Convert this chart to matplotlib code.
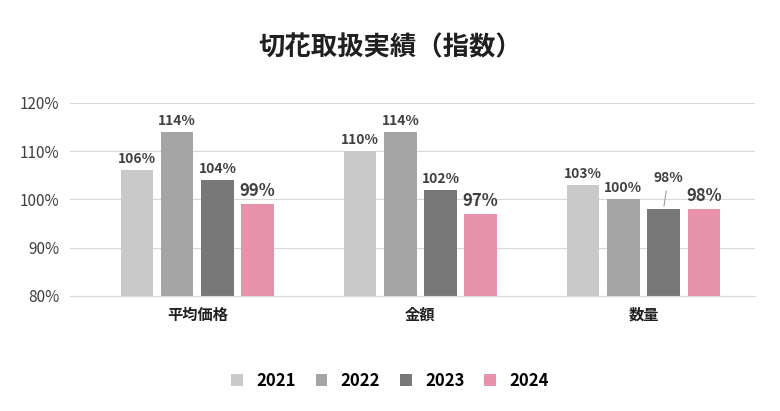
import matplotlib
matplotlib.use("Agg")
import matplotlib.pyplot as plt
import numpy as np

plt.rcParams["font.family"] = "Noto Sans CJK JP"

categories = ["平均価格", "金額", "数量"]
years = ["2021", "2022", "2023", "2024"]
values = {
    "2021": [106, 110, 103],
    "2022": [114, 114, 100],
    "2023": [104, 102, 98],
    "2024": [99, 97, 98],
}
colors = ["#c9c9c9", "#a5a5a5", "#787878", "#e891aa"]

fig = plt.figure(figsize=(7.8, 4.11), dpi=100)
ax = fig.add_axes([0.09, 0.28, 0.878, 0.47])
x = np.arange(len(categories))
w = 0.145
off = [-1.5, -0.5, 0.5, 1.5]
for i, y in enumerate(years):
    xs = x + off[i] * 0.18
    ax.bar(xs, values[y], width=w, color=colors[i], label=y, zorder=2)
    for j, (xx, v) in enumerate(zip(xs, values[y])):
        big = (y == "2024")
        if y == "2023" and j == 2:
            ax.annotate(f"{v}%", xy=(xx, v), xytext=(xx + 0.02, v + 5.5), ha="center",
                        fontsize=10, fontweight="bold", color="#404040",
                        arrowprops=dict(arrowstyle="-", color="#a0a0a0", lw=0.8))
            continue
        ax.text(xx, v + 0.8, f"{v}%", ha="center", va="bottom",
                fontsize=12 if big else 10, fontweight="bold", color="#404040")

ax.set_ylim(80, 120)
ax.set_yticks([80, 90, 100, 110, 120])
ax.set_yticklabels([f"{t}%" for t in [80, 90, 100, 110, 120]], fontsize=11, color="#404040")
ax.set_xlim(-0.57, 2.5)
ax.set_xticks(x)
ax.set_xticklabels(categories, fontsize=11, fontweight="bold", color="#202020")
ax.grid(axis="y", color="#d9d9d9", lw=0.8, zorder=0)
for s in ["top", "right", "left"]:
    ax.spines[s].set_visible(False)
ax.spines["bottom"].set_color("#d9d9d9")
ax.tick_params(length=0, pad=8)

fig.text(0.5, 0.865, "切花取扱実績（指数）", ha="center", fontsize=19, fontweight="bold", color="#202020")
fig.legend(loc="lower center", bbox_to_anchor=(0.5, 0.015), ncol=4, frameon=False,
           handlelength=0.7, handleheight=0.7, columnspacing=1.2,
           prop={"weight": "bold", "size": 12})
fig.savefig("out.png", dpi=100, facecolor="white")
